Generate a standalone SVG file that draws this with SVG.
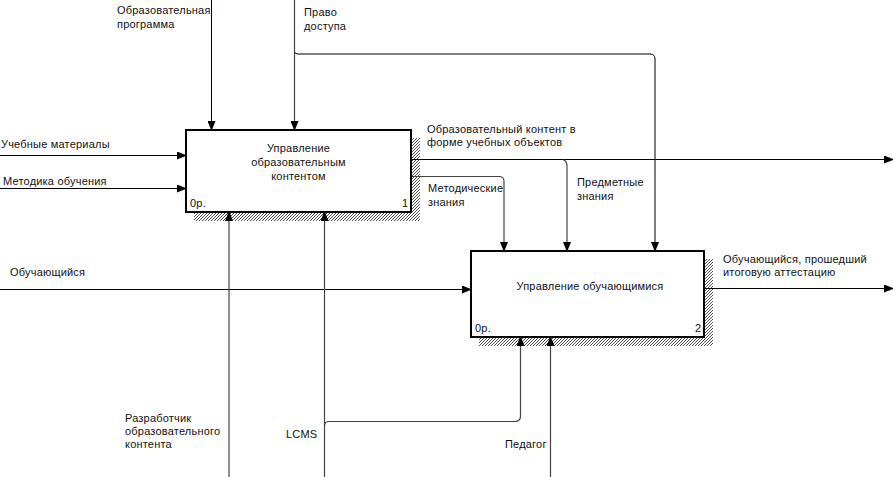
<svg xmlns="http://www.w3.org/2000/svg" width="893" height="477" viewBox="0 0 893 477">
<defs>
<pattern id="hatch" width="3" height="3" patternUnits="userSpaceOnUse">
<rect width="3" height="3" fill="#fff"/>
<path d="M0,3 L3,0" stroke="#222" stroke-width="0.8"/>
</pattern>
<marker id="ah" markerWidth="10" markerHeight="8" refX="9" refY="4" orient="auto" markerUnits="userSpaceOnUse">
<path d="M0,0 L10,4 L0,8 Z" fill="#000"/>
</marker>
<style>
.box{fill:#fff;stroke:#000;stroke-width:2}
.sh{fill:url(#hatch)}
.t{font-family:"Liberation Sans",Arial,sans-serif;font-size:11px;fill:#111;letter-spacing:0.2px}
.c{stroke:#000;stroke-width:1;fill:none}
.g{stroke:#444;stroke-width:1.2;fill:none}
.a{marker-end:url(#ah)}
</style>
</defs>
<rect width="893" height="477" fill="#fff"/>

<g id="node1">
<rect class="sh" x="411" y="138" width="9" height="83"/>
<rect class="sh" x="194" y="212" width="226" height="9"/>
<rect class="box" x="186" y="130" width="225" height="82"/>
<text class="t" x="298.5" y="152" text-anchor="middle">Управление</text>
<text class="t" x="298.5" y="166" text-anchor="middle">образовательным</text>
<text class="t" x="298.5" y="180" text-anchor="middle">контентом</text>
<text class="t" x="190" y="207">0р.</text>
<text class="t" x="402" y="207">1</text>
</g>

<g id="node2">
<rect class="sh" x="704" y="259" width="9" height="87"/>
<rect class="sh" x="479" y="337" width="234" height="9"/>
<rect class="box" x="471" y="251" width="233" height="86"/>
<text class="t" x="590" y="290" text-anchor="middle">Управление обучающимися</text>
<text class="t" x="475" y="332">0р.</text>
<text class="t" x="695" y="332">2</text>
</g>

<g id="connectors">
<path class="c a" d="M211.5,0 V130"/>
<path class="g a" d="M294.5,0 V130"/>
<path class="c a" d="M294.5,52 Q295,54 298,54 H650 Q655,54 655,59 V251"/>
<path class="c a" d="M0,155.5 H186"/>
<path class="c a" d="M0,188.5 H186"/>
<path class="c a" d="M412,159.5 H893"/>
<path class="g a" d="M412,176.5 H499 Q504,176.5 504,181.5 V251"/>
<path class="g a" d="M563,159.5 Q567,161 567,166 V251"/>
<path class="c a" d="M0,289.5 H471"/>
<path class="c a" d="M705,288.5 H893"/>
<path class="g a" d="M229,477 V212"/>
<path class="g a" d="M324.5,477 V212"/>
<path class="g a" d="M324.5,425 Q325,421.5 329,421.5 H515 Q520.5,421.5 520.5,416 V337"/>
<path class="g a" d="M550.5,477 V337"/>
</g>

<g id="labels">
<text class="t" x="117" y="14">Образовательная</text>
<text class="t" x="117" y="28">программа</text>
<text class="t" x="304" y="16">Право</text>
<text class="t" x="304" y="30">доступа</text>
<text class="t" x="1" y="148">Учебные материалы</text>
<text class="t" x="3" y="185">Методика обучения</text>
<text class="t" x="427" y="133">Образовательный контент в</text>
<text class="t" x="427" y="146">форме учебных объектов</text>
<text class="t" x="428" y="192">Методические</text>
<text class="t" x="428" y="206">знания</text>
<text class="t" x="577" y="186">Предметные</text>
<text class="t" x="577" y="200">знания</text>
<text class="t" x="10" y="276">Обучающийся</text>
<text class="t" x="723" y="263">Обучающийся, прошедший</text>
<text class="t" x="723" y="276">итоговую аттестацию</text>
<text class="t" x="125" y="422">Разработчик</text>
<text class="t" x="125" y="435">образовательного</text>
<text class="t" x="125" y="448">контента</text>
<text class="t" x="286" y="438">LCMS</text>
<text class="t" x="505" y="448">Педагог</text>
</g>
</svg>
